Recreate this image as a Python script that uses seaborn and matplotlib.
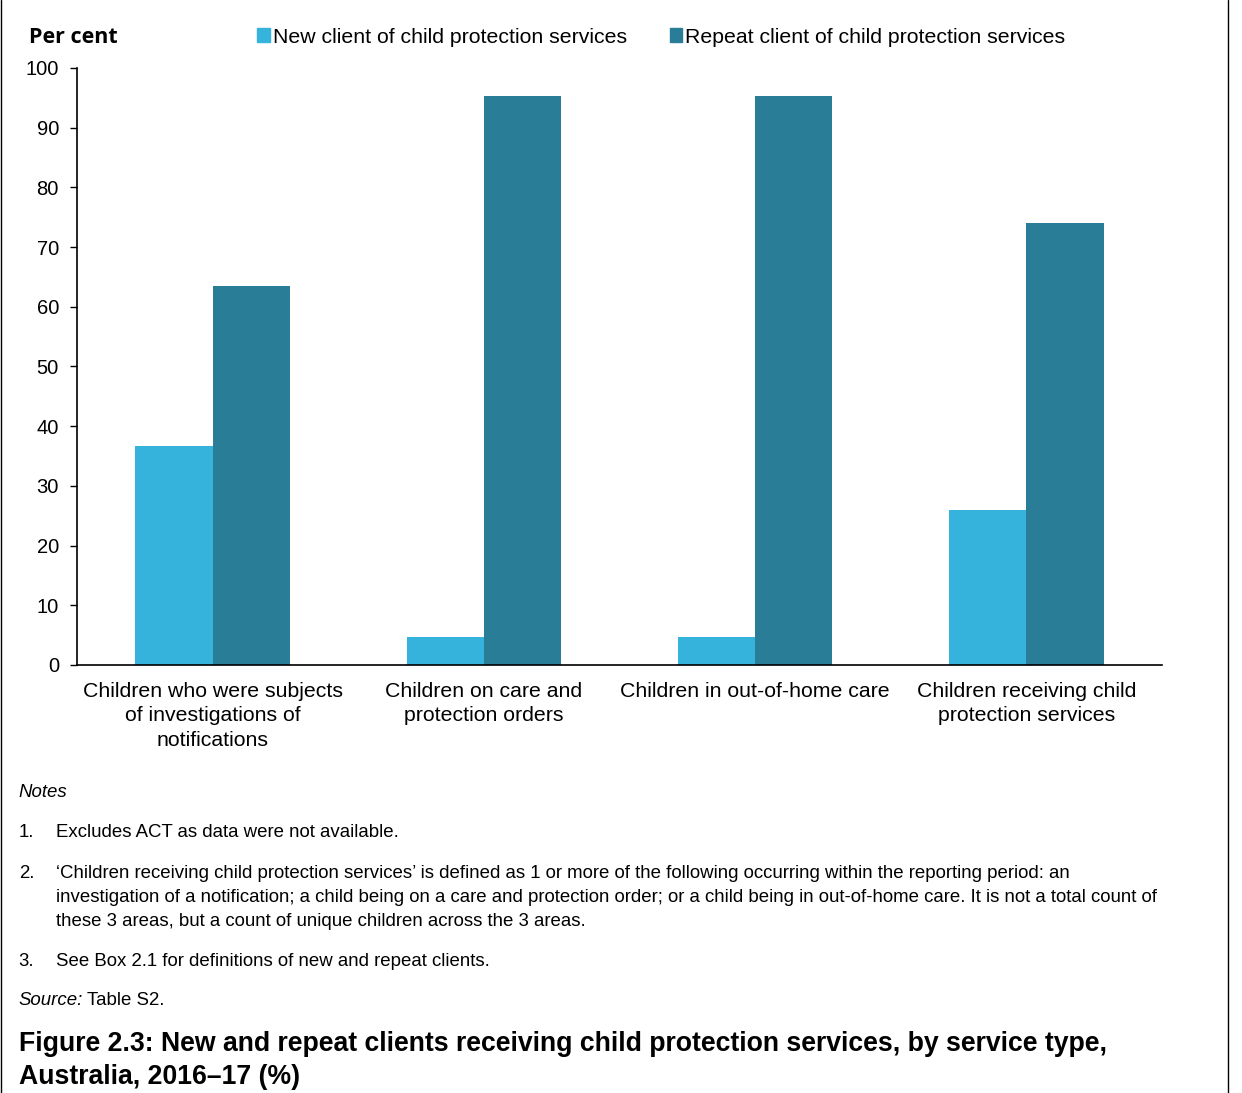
import numpy as np
import pandas as pd
import matplotlib.pyplot as plt
import seaborn as sns
from matplotlib.lines import Line2D
from matplotlib.patches import Patch

# data
categories = ['Children who were subjects\nof investigations of\nnotifications',
              'Children on care and\nprotection orders',
              'Children in out-of-home care',
              'Children receiving child\nprotection services']
new_client = [36.6, 4.7, 4.7, 26.0]
repeat_client = [63.4, 95.3, 95.3, 74.0]
series = ['New client of child protection services',
          'Repeat client of child protection services']
y_ticks = [0, 10, 20, 30, 40, 50, 60, 70, 80, 90, 100]

df = pd.DataFrame({
    'category': categories * 2,
    'value': new_client + repeat_client,
    'client': [series[0]] * 4 + [series[1]] * 4,
})

sns.set_theme(style='white')
plt.rcParams['font.family'] = ['Liberation Sans', 'DejaVu Sans']
plt.rcParams['text.color'] = 'black'
plt.rcParams['xtick.color'] = 'black'
plt.rcParams['ytick.color'] = 'black'

fig = plt.figure(figsize=(12.42, 10.93), dpi=100)
ax = fig.add_axes([0.062, 0.3916, 0.8736, 0.5462])
colors = ['#35b3dc', '#2a7d97']
sns.barplot(data=df, x='category', y='value', hue='client', palette=colors,
            width=0.57, saturation=1, linewidth=0, ax=ax, legend=False)

ax.set_ylim(0, 100)
ax.set_xlim(-0.5, 3.5)
ax.set_yticks(y_ticks)
ax.tick_params(axis='y', labelsize=14.5, length=5, width=1, direction='out', left=True, pad=8)
ax.tick_params(axis='x', labelsize=15.3, length=0, pad=12)
ax.set_xlabel('')
ax.set_ylabel('')
sns.despine(ax=ax)
for s in ['left', 'bottom']:
    ax.spines[s].set_color('black')
    ax.spines[s].set_linewidth(1.2)
for lab in ax.get_xticklabels():
    lab.set_linespacing(1.38)

handles = [Patch(color=c) for c in colors]
fig.legend(handles, series, loc='center left', bbox_to_anchor=(0.1915, 0.966), ncol=2,
           frameon=False, fontsize=15.3, handlelength=0.6, handleheight=0.6,
           handletextpad=0.15, columnspacing=2.0)

fig.text(0.023, 0.966, 'Per cent', fontsize=15.5, fontweight='bold', va='center',
         family=['Open Sans', 'DejaVu Sans'])

notes_size = 13.4
fig.text(0.015, 0.275, 'Notes', fontsize=notes_size, style='italic', va='center')
fig.text(0.015, 0.238, '1.', fontsize=notes_size, va='center')
fig.text(0.045, 0.238, 'Excludes ACT as data were not available.', fontsize=notes_size, va='center')
fig.text(0.015, 0.201, '2.', fontsize=notes_size, va='center')
fig.text(0.045, 0.201, '\u2018Children receiving child protection services\u2019 is defined as 1 or more of the following occurring within the reporting period: an',
         fontsize=notes_size, va='center')
fig.text(0.045, 0.179, 'investigation of a notification; a child being on a care and protection order; or a child being in out-of-home care. It is not a total count of',
         fontsize=notes_size, va='center')
fig.text(0.045, 0.157, 'these 3 areas, but a count of unique children across the 3 areas.',
         fontsize=notes_size, va='center')
fig.text(0.015, 0.120, '3.', fontsize=notes_size, va='center')
fig.text(0.045, 0.120, 'See Box 2.1 for definitions of new and repeat clients.', fontsize=notes_size, va='center')
fig.text(0.015, 0.085, 'Source:', fontsize=notes_size, style='italic', va='center')
fig.text(0.070, 0.085, 'Table S2.', fontsize=notes_size, va='center')

fig.text(0.015, 0.045, 'Figure 2.3: New and repeat clients receiving child protection services, by service type,',
         fontsize=19.2, fontweight='bold', va='center')
fig.text(0.015, 0.015, 'Australia, 2016\u201317 (%)', fontsize=19.2, fontweight='bold', va='center')

# frame lines at the sides of the figure
fig.add_artist(Line2D([0.0008, 0.0008], [0, 1], transform=fig.transFigure, color='black', lw=1))
fig.add_artist(Line2D([0.9887, 0.9887], [0, 1], transform=fig.transFigure, color='black', lw=1))

fig.savefig('out.png', dpi=100)
